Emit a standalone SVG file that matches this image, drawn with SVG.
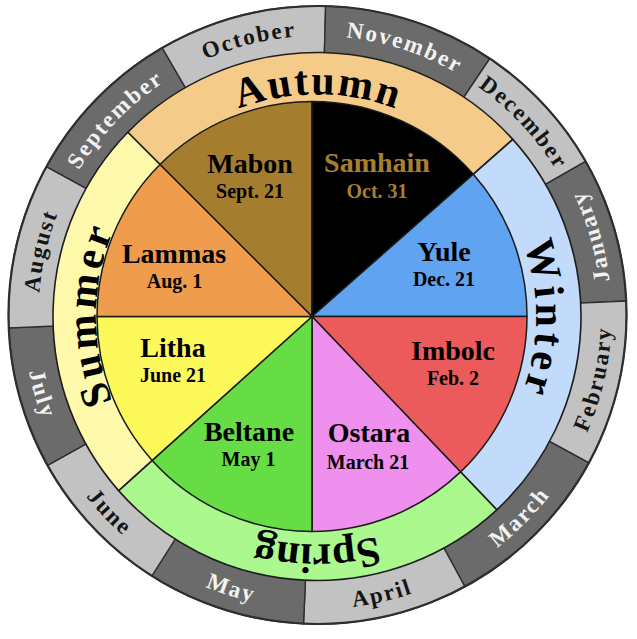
<svg xmlns="http://www.w3.org/2000/svg" width="637" height="639" viewBox="0 0 637 639">
<style>
.ml{fill:#c2c2c2;stroke:#2e2e2e;stroke-width:1.4}
.md{fill:#6b6b6b;stroke:#2e2e2e;stroke-width:1.4}
.mt{font-family:"Liberation Serif","Times New Roman",serif;font-weight:bold;font-size:23px;letter-spacing:2px}
.mtl{fill:#151515}
.mtd{fill:#f2f2f2}
.sr{stroke:#1e1e1e;stroke-width:1.6;stroke-linejoin:round}
.st{font-family:"Liberation Serif","Times New Roman",serif;font-weight:bold;font-size:42px;fill:#000}
.pw{stroke:#1a1a1a;stroke-width:1.5;stroke-linejoin:round}
.nm{font-family:"Liberation Serif","Times New Roman",serif;font-weight:bold;font-size:28px;text-anchor:middle;fill:#000}
.dt{font-family:"Liberation Serif","Times New Roman",serif;font-weight:bold;font-size:20px;text-anchor:middle;fill:#000}
.gold{fill:#a7802f}
</style>
<defs>
<path id="pOct" d="M66.7,192.7 A279,279 0 0 1 481.5,89.3"/>
<path id="pNov" d="M169.7,78.4 A279,279 0 0 1 576.2,210.5"/>
<path id="pDec" d="M302.9,36.4 A279,279 0 0 1 594.4,349.0"/>
<path id="pSep" d="M40.0,344.2 A279,279 0 0 1 337.0,36.7"/>
<path id="pAug" d="M94.7,482.9 A279,279 0 0 1 190.8,66.4"/>
<path id="pJan" d="M561.2,479.4 A294,294 0 0 0 437.1,46.4"/>
<path id="pFeb" d="M451.0,577.0 A294,294 0 0 0 552.3,138.1"/>
<path id="pMar" d="M291.9,607.9 A294,294 0 0 0 610.4,289.4"/>
<path id="pApr" d="M140.6,549.8 A294,294 0 0 0 579.5,448.5"/>
<path id="pMay" d="M45.9,427.5 A294,294 0 0 0 475.5,563.0"/>
<path id="pJun" d="M25.4,281.7 A294,294 0 0 0 335.4,608.5"/>
<path id="pJul" d="M73.8,150.6 A294,294 0 0 0 197.9,583.6"/>
<path id="pAut" d="M124.7,205.5 A222,222 0 0 1 509.3,205.5"/>
<path id="pWin" d="M426.5,126.8 A219,219 0 0 1 426.5,506.2"/>
<path id="pSpr" d="M514.5,430.5 A228,228 0 0 1 119.5,430.5"/>
<path id="pSum" d="M206.5,507.9 A221,221 0 0 1 206.5,125.1"/>
</defs>

<g id="months">
<g id="october"><path class="ml" d="M317.5,315 L162.1,47.9 A309,309 0 0 1 325.6,6.1 Z"/><text class="mt mtl"><textPath href="#pOct" startOffset="50%" text-anchor="middle">October</textPath></text></g>
<g id="november"><path class="md" d="M317.5,315 L325.6,6.1 A309,309 0 0 1 489.8,58.5 Z"/><text class="mt mtd"><textPath href="#pNov" startOffset="50%" text-anchor="middle">November</textPath></text></g>
<g id="december"><path class="ml" d="M317.5,315 L489.8,58.5 A309,309 0 0 1 585.6,161.4 Z"/><text class="mt mtl"><textPath href="#pDec" startOffset="50%" text-anchor="middle">December</textPath></text></g>
<g id="january"><path class="md" d="M317.5,315 L585.6,161.4 A309,309 0 0 1 626.2,301.0 Z"/><text class="mt mtd"><textPath href="#pJan" startOffset="50%" text-anchor="middle">January</textPath></text></g>
<g id="february"><path class="ml" d="M317.5,315 L626.2,301.0 A309,309 0 0 1 588.8,462.9 Z"/><text class="mt mtl"><textPath href="#pFeb" startOffset="50%" text-anchor="middle">February</textPath></text></g>
<g id="march"><path class="md" d="M317.5,315 L588.8,462.9 A309,309 0 0 1 464.9,586.6 Z"/><text class="mt mtd"><textPath href="#pMar" startOffset="50%" text-anchor="middle">March</textPath></text></g>
<g id="april"><path class="ml" d="M317.5,315 L464.9,586.6 A309,309 0 0 1 303.5,623.7 Z"/><text class="mt mtl"><textPath href="#pApr" startOffset="50%" text-anchor="middle">April</textPath></text></g>
<g id="may"><path class="md" d="M317.5,315 L303.5,623.7 A309,309 0 0 1 151.9,575.9 Z"/><text class="mt mtd"><textPath href="#pMay" startOffset="50%" text-anchor="middle">May</textPath></text></g>
<g id="june"><path class="ml" d="M317.5,315 L151.9,575.9 A309,309 0 0 1 47.6,465.3 Z"/><text class="mt mtl"><textPath href="#pJun" startOffset="50%" text-anchor="middle">June</textPath></text></g>
<g id="july"><path class="md" d="M317.5,315 L47.6,465.3 A309,309 0 0 1 8.8,327.9 Z"/><text class="mt mtd"><textPath href="#pJul" startOffset="50%" text-anchor="middle">July</textPath></text></g>
<g id="august"><path class="ml" d="M317.5,315 L8.8,327.9 A309,309 0 0 1 46.5,166.6 Z"/><text class="mt mtl"><textPath href="#pAug" startOffset="50%" text-anchor="middle">August</textPath></text></g>
<g id="september"><path class="md" d="M317.5,315 L46.5,166.6 A309,309 0 0 1 162.1,47.9 Z"/><text class="mt mtd"><textPath href="#pSep" startOffset="50%" text-anchor="middle">September</textPath></text></g>
<circle cx="317.5" cy="315" r="309" fill="none" stroke="#2e2e2e" stroke-width="2.2"/>
</g>

<g id="seasons">
<g id="autumn"><path class="sr" fill="#f4cb88" d="M312,316.5 L127.8,132.3 A264,264 0 0 1 512.8,139.4 Z"/></g>
<g id="winter"><path class="sr" fill="#c2dbfa" d="M312,316.5 L512.8,139.4 A264,264 0 0 1 496.8,509.8 Z"/></g>
<g id="spring"><path class="sr" fill="#abf88f" d="M312,316.5 L496.8,509.8 A264,264 0 0 1 118.6,490.6 Z"/></g>
<g id="summer"><path class="sr" fill="#fffaab" d="M312,316.5 L118.6,490.6 A264,264 0 0 1 127.8,132.3 Z"/></g>
</g>

<g id="wheel">
<g id="mabon"><path class="pw" fill="#a47e2e" d="M312,316.5 L160.0,164.5 A215,215 0 0 1 312,101.5 Z"/></g>
<g id="samhain"><path class="pw" fill="#000000" d="M312,316.5 L312,101.5 A215,215 0 0 1 473.3,174.3 Z"/></g>
<g id="yule"><path class="pw" fill="#5fa3f1" d="M312,316.5 L473.3,174.3 A215,215 0 0 1 527,316.5 Z"/></g>
<g id="imbolc"><path class="pw" fill="#eb5b5b" d="M312,316.5 L527,316.5 A215,215 0 0 1 460.6,471.9 Z"/></g>
<g id="ostara"><path class="pw" fill="#ef90ef" d="M312,316.5 L460.6,471.9 A215,215 0 0 1 312,531.5 Z"/></g>
<g id="beltane"><path class="pw" fill="#67dd45" d="M312,316.5 L312,531.5 A215,215 0 0 1 152.2,460.4 Z"/></g>
<g id="litha"><path class="pw" fill="#fdf95a" d="M312,316.5 L152.2,460.4 A215,215 0 0 1 97,316.5 Z"/></g>
<g id="lammas"><path class="pw" fill="#ef9c4c" d="M312,316.5 L97,316.5 A215,215 0 0 1 160.0,164.5 Z"/></g>
</g>

<g id="season-labels">
<text class="st"><textPath href="#pAut" startOffset="50%" text-anchor="middle" textLength="160">Autumn</textPath></text>
<text class="st"><textPath href="#pWin" startOffset="50%" text-anchor="middle" textLength="150">Winter</textPath></text>
<text class="st"><textPath href="#pSpr" startOffset="50%" text-anchor="middle">Spring</textPath></text>
<text class="st"><textPath href="#pSum" startOffset="50%" text-anchor="middle" textLength="174">Summer</textPath></text>
</g>

<g id="festival-labels">
<text class="nm" x="250" y="173">Mabon</text><text class="dt" x="250" y="198">Sept. 21</text>
<text class="nm gold" x="377" y="172">Samhain</text><text class="dt gold" x="377" y="198">Oct. 31</text>
<text class="nm" x="174" y="263">Lammas</text><text class="dt" x="174.5" y="288">Aug. 1</text>
<text class="nm" x="444" y="261">Yule</text><text class="dt" x="444" y="286">Dec. 21</text>
<text class="nm" x="173" y="357">Litha</text><text class="dt" x="173" y="382">June 21</text>
<text class="nm" x="453" y="360">Imbolc</text><text class="dt" x="453" y="385">Feb. 2</text>
<text class="nm" x="249" y="441">Beltane</text><text class="dt" x="248.5" y="466">May 1</text>
<text class="nm" x="369" y="442">Ostara</text><text class="dt" x="368" y="469">March 21</text>
</g>
</svg>
